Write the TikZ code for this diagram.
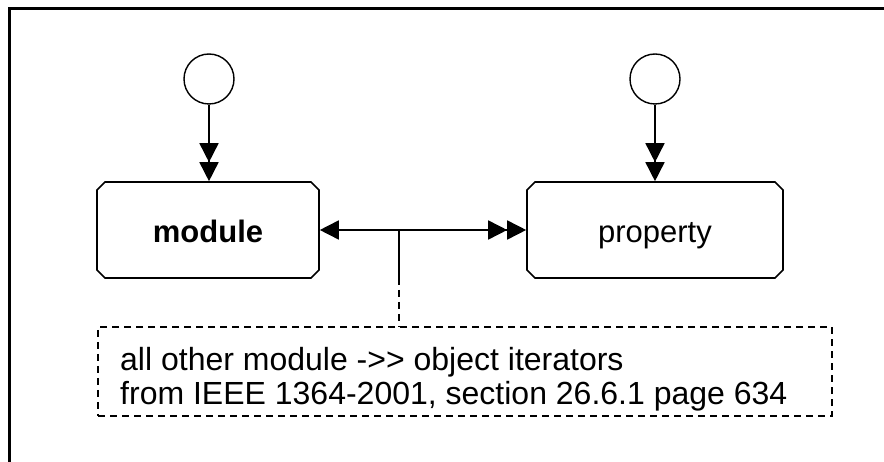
\documentclass[tikz,border=0pt]{standalone}
\usepackage{fontspec}
\setmainfont{Liberation Sans}
\usetikzlibrary{arrows.meta,shapes.misc}
\begin{document}
\begin{tikzpicture}[x=1pt,y=-1pt,
  statebox/.style={chamfered rectangle, chamfered rectangle xsep=4pt,
    chamfered rectangle ysep=4pt, draw, line width=1.6pt,
    minimum width=#1, minimum height=96pt, inner sep=0pt,
    text height=30pt, text depth=4pt,
    font=\fontsize{31}{33}\selectfont},
  startcircle/.style={circle, draw, line width=1.4pt, minimum size=50pt, inner sep=0pt},
  conn/.style={line width=1.6pt},
  notetext/.style={anchor=base west, inner sep=0pt, font=\fontsize{32}{33}\selectfont},
  notebox/.style={draw, line width=1.7pt, dash pattern=on 7pt off 5pt,
    minimum width=734pt, minimum height=89pt, inner sep=0pt}
]
\useasboundingbox (0,0) rectangle (884,462);
\draw[line width=3pt] (9.5,462) -- (9.5,8.5) -- (884,8.5);

\node[statebox=222pt] (module) at (208,230) {\textbf{module}};
\node[statebox=256pt] (property) at (655,230) {property};
\node[startcircle] (s1) at (209,79) {};
\node[startcircle] (s2) at (655,79) {};

\draw[conn, -{Triangle[length=19pt,width=19pt] Triangle[length=19pt,width=19pt]}] (s1) -- (s1 |- module.north);
\draw[conn, -{Triangle[length=19pt,width=19pt] Triangle[length=19pt,width=19pt]}] (s2) -- (s2 |- property.north);

\draw[conn, {Triangle[length=19pt,width=19pt]}-{Triangle[length=19pt,width=19pt] Triangle[length=19pt,width=19pt]}]
  (module.east) -- (property.west);

\node[notebox] (note) at (465,371.5) {};
\node[notetext] (l1) at (120,371) {all other module ->{}> object iterators};
\node[notetext] (l2) at (120,404) {from IEEE 1364-2001, section 26.6.1 page 634};

\coordinate (j) at (399,230);
\coordinate (k) at (399,278);
\draw[conn] (j) -- (k);
\draw[conn, dash pattern=on 7pt off 5pt] (k) -- (k |- note.north);
\end{tikzpicture}
\end{document}
